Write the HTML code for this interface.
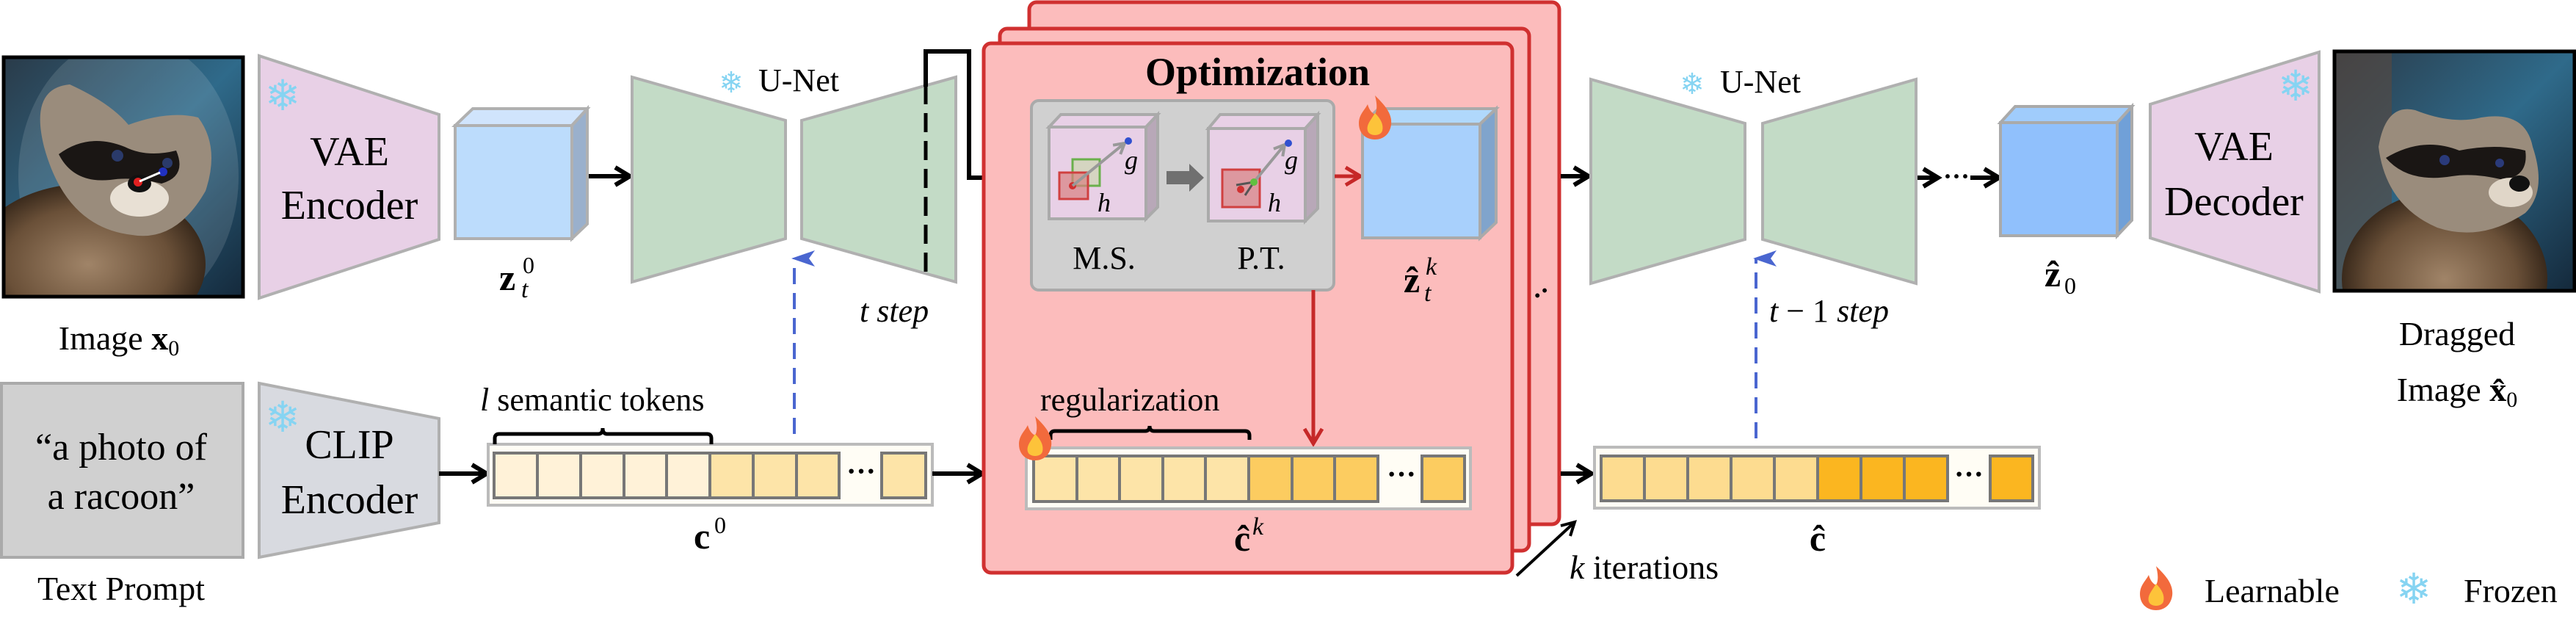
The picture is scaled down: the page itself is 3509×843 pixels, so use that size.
<!DOCTYPE html>
<html><head><meta charset="utf-8"><style>
html,body{margin:0;padding:0;background:#fff}
svg{display:block}
svg text{font-family:"Liberation Serif","DejaVu Serif","Times New Roman",serif;fill:#000}
</style></head><body>
<svg width="3509" height="843" viewBox="0 0 3509 843" xmlns="http://www.w3.org/2000/svg" font-family="Liberation Serif, DejaVu Serif, serif">
<defs>
<marker id="ab" markerUnits="userSpaceOnUse" markerWidth="30" markerHeight="30" refX="24" refY="15" orient="auto"><path d="M4,3 L24,15 L4,27" fill="none" stroke="#000" stroke-width="6"/></marker>
<marker id="ar" markerUnits="userSpaceOnUse" markerWidth="30" markerHeight="30" refX="24" refY="15" orient="auto"><path d="M4,3 L24,15 L4,27" fill="none" stroke="#c62828" stroke-width="5"/></marker>
<marker id="abl" markerUnits="userSpaceOnUse" markerWidth="30" markerHeight="34" refX="15" refY="4" orient="auto-start-reverse"><path d="M15,0 L26,32 L15,24 L4,32 Z" fill="#4a66d0"/></marker>
<marker id="ag" markerUnits="userSpaceOnUse" markerWidth="20" markerHeight="20" refX="16" refY="10" orient="auto"><path d="M2,2 L16,10 L2,18" fill="none" stroke="#999" stroke-width="4"/></marker>
<linearGradient id="bg1" x1="0" y1="0" x2="1" y2="1"><stop offset="0" stop-color="#2a3a48"/><stop offset="0.5" stop-color="#2f6a8a"/><stop offset="1" stop-color="#14283a"/></linearGradient>
<radialGradient id="fur" cx="0.5" cy="0.5" r="0.5"><stop offset="0" stop-color="#a08468"/><stop offset="0.7" stop-color="#6a5038"/><stop offset="1" stop-color="#3a2a1c"/></radialGradient>
<clipPath id="c1"><rect x="3" y="76" width="330" height="330"/></clipPath>
<clipPath id="c2"><rect x="3178" y="68" width="331" height="330"/></clipPath>
<g id="flame"><path d="M0,-30 C12,-18 24,-6 22,10 C20,24 10,30 0,30 C-12,30 -22,22 -22,8 C-22,-4 -14,-10 -10,-18 C-8,-10 -4,-6 0,-4 C4,-12 2,-22 0,-30 Z" fill="#f26a3c"/><path d="M0,-6 C8,2 12,10 10,18 C8,26 -8,26 -10,18 C-12,10 -6,4 0,-6 Z" fill="#fdc33a"/></g>
</defs>

<g clip-path="url(#c1)">
<rect x="3" y="76" width="330" height="330" fill="url(#bg1)"/>
<ellipse cx="175" cy="240" rx="150" ry="190" fill="#ffffff" opacity="0.12"/>
<ellipse cx="120" cy="360" rx="160" ry="110" fill="url(#fur)"/>
<path d="M60,200 Q40,120 95,115 Q150,140 175,170 Q230,150 270,160 Q300,200 280,260 Q240,330 180,320 Q90,310 60,200 Z" fill="#9a8c7c"/>
<path d="M80,210 Q120,180 170,200 Q200,215 240,205 Q255,240 220,250 Q180,240 150,245 Q100,250 80,210 Z" fill="#1a1614"/>
<circle cx="160" cy="212" r="8" fill="#2a3a6a"/><circle cx="228" cy="222" r="7" fill="#2a3a6a"/>
<ellipse cx="190" cy="270" rx="40" ry="25" fill="#e8e0d4"/>
<ellipse cx="190" cy="250" rx="16" ry="12" fill="#111"/>
<circle cx="188" cy="248" r="6" fill="#e02020"/><circle cx="222" cy="234" r="6" fill="#2030c0"/>
<line x1="190" y1="247" x2="218" y2="235" stroke="#fff" stroke-width="3"/>
</g>
<rect x="5" y="78" width="326" height="326" fill="none" stroke="#000" stroke-width="5"/>
<text x="162" y="476" font-size="46" text-anchor="middle">Image <tspan font-weight="bold">x</tspan><tspan font-size="30" dy="8">0</tspan></text>

<polygon points="353,76 598,156 598,326 353,406" fill="#e8d0e6" stroke="#b0b0b0" stroke-width="4"/>
<text x="385" y="150" font-size="58" text-anchor="middle" style="fill:#86d4f2">❄</text>
<text x="476" y="225" font-size="56" text-anchor="middle">VAE</text>
<text x="476" y="298" font-size="56" text-anchor="middle">Encoder</text>

<polygon points="620,171 644,148 800,148 779,171" fill="#d0e4fc" stroke="#b0b0b0" stroke-width="4"/>
<polygon points="779,171 800,148 800,305 779,325" fill="#9ab0cc" stroke="#b0b0b0" stroke-width="4"/>
<rect x="620" y="171" width="159" height="154" fill="#bcdcfc" stroke="#b0b0b0" stroke-width="4"/>
<text x="680" y="395" font-size="50" font-weight="bold">z</text>
<text x="712" y="372" font-size="32">0</text>
<text x="710" y="405" font-size="34" font-style="italic">t</text>
<line x1="802" y1="240" x2="858" y2="240" stroke="#000" stroke-width="6" marker-end="url(#ab)"/>

<polygon points="861,105 1070,164 1070,325 861,384" fill="#c3dbc6" stroke="#b0b0b0" stroke-width="4"/>
<polygon points="1092,164 1302,105 1302,384 1092,325" fill="#c3dbc6" stroke="#b0b0b0" stroke-width="4"/>
<text x="996" y="126" font-size="40" text-anchor="middle" style="fill:#86d4f2">❄</text>
<text x="1033" y="124" font-size="44">U-Net</text>
<line x1="1261" y1="116" x2="1261" y2="371" stroke="#000" stroke-width="5" stroke-dasharray="26,12"/>
<path d="M1261,118 V70 H1320 V242 H1400" fill="none" stroke="#000" stroke-width="6" marker-end="url(#ab)"/>
<text x="1171" y="438" font-size="44" font-style="italic">t step</text>
<line x1="1082" y1="591" x2="1082" y2="352" stroke="#4a66d0" stroke-width="4" stroke-dasharray="22,12" marker-end="url(#abl)"/>

<rect x="2" y="522" width="329" height="237" fill="#d0d0d0" stroke="#aaa" stroke-width="4"/>
<text x="165" y="626" font-size="52" text-anchor="middle">“a photo of</text>
<text x="165" y="693" font-size="52" text-anchor="middle">a racoon”</text>
<text x="165" y="817" font-size="46" text-anchor="middle">Text Prompt</text>

<polygon points="353,522 598,570 598,712 353,759" fill="#d8dae0" stroke="#b0b0b0" stroke-width="4"/>
<text x="385" y="588" font-size="58" text-anchor="middle" style="fill:#86d4f2">❄</text>
<text x="476" y="624" font-size="56" text-anchor="middle">CLIP</text>
<text x="476" y="699" font-size="56" text-anchor="middle">Encoder</text>
<line x1="598" y1="645" x2="663" y2="645" stroke="#000" stroke-width="6" marker-end="url(#ab)"/>

<rect x="665" y="605" width="605" height="83" fill="#fffdf5" stroke="#bbb" stroke-width="4"/>
<g stroke="#777" stroke-width="4">
<rect x="673" y="617" width="59" height="61" fill="#fff2d8"/><rect x="732" y="617" width="59" height="61" fill="#fff2d8"/><rect x="791" y="617" width="59" height="61" fill="#fff2d8"/><rect x="850" y="617" width="58" height="61" fill="#fff2d8"/><rect x="908" y="617" width="59" height="61" fill="#fff2d8"/>
<rect x="967" y="617" width="59" height="61" fill="#fde4a8"/><rect x="1026" y="617" width="59" height="61" fill="#fde4a8"/><rect x="1085" y="617" width="58" height="61" fill="#fde4a8"/>
<rect x="1201" y="617" width="60" height="61" fill="#fde4a8"/>
</g>
<text x="1173" y="655" font-size="40" font-weight="bold" text-anchor="middle">···</text>
<path d="M674,605 V597 Q674,591 680,591 H815 Q821,591 821,583 Q821,591 827,591 H963 Q969,591 969,597 V605" fill="none" stroke="#000" stroke-width="5"/>
<text x="654" y="559" font-size="44"><tspan font-style="italic">l</tspan> semantic tokens</text>
<text x="945" y="747" font-size="50" font-weight="bold">c</text>
<text x="973" y="726" font-size="32">0</text>
<line x1="1270" y1="645" x2="1338" y2="645" stroke="#000" stroke-width="6" marker-end="url(#ab)"/>

<rect x="1402" y="3" width="722" height="711" rx="10" fill="#fcbcbc" stroke="#d03030" stroke-width="5"/>
<rect x="1362" y="39" width="721" height="711" rx="10" fill="#fcbcbc" stroke="#d03030" stroke-width="5"/>
<rect x="1340" y="59" width="720" height="721" rx="10" fill="#fcbcbc" stroke="#d03030" stroke-width="5"/>
<text x="1713" y="116" font-size="54" font-weight="bold" text-anchor="middle">Optimization</text>
<rect x="1405" y="137" width="412" height="258" rx="10" fill="#d0d0d0" stroke="#aaa" stroke-width="4"/>
<polygon points="1429,173 1445,156 1577,156 1561,173" fill="#e8d0e6" stroke="#aaa" stroke-width="4"/>
<polygon points="1561,173 1577,156 1577,282 1561,298" fill="#b8a8b8" stroke="#aaa" stroke-width="4"/>
<rect x="1429" y="173" width="132" height="125" fill="#e8d0e6" stroke="#aaa" stroke-width="4"/>
<rect x="1461" y="217" width="37" height="36" fill="#c8d8a8" fill-opacity="0.6" stroke="#6ab04c" stroke-width="3"/>
<rect x="1443" y="235" width="39" height="36" fill="#d88080" fill-opacity="0.7" stroke="#d04040" stroke-width="3"/>
<circle cx="1461" cy="253" r="5" fill="#d03030"/>
<line x1="1461" y1="253" x2="1532" y2="195" stroke="#999" stroke-width="4" marker-end="url(#ag)"/>
<circle cx="1537" cy="192" r="5" fill="#3050d0"/>
<text x="1532" y="230" font-size="36" font-style="italic">g</text>
<text x="1495" y="288" font-size="36" font-style="italic">h</text>
<polygon points="1589,233 1620,233 1620,223 1640,242 1620,261 1620,251 1589,251" fill="#707070"/>
<polygon points="1646,175 1662,156 1795,156 1778,175" fill="#e8d0e6" stroke="#aaa" stroke-width="4"/>
<polygon points="1778,175 1795,156 1795,284 1778,301" fill="#b8a8b8" stroke="#aaa" stroke-width="4"/>
<rect x="1646" y="175" width="132" height="126" fill="#e8d0e6" stroke="#aaa" stroke-width="4"/>
<rect x="1665" y="231" width="51" height="51" fill="#d88080" fill-opacity="0.7" stroke="#d04040" stroke-width="3"/>
<circle cx="1690" cy="258" r="5" fill="#d03030"/>
<line x1="1708" y1="248" x2="1750" y2="197" stroke="#999" stroke-width="4" marker-end="url(#ag)"/>
<path d="M1708,248 L1684,252 M1708,248 L1696,266" stroke="#555" stroke-width="3"/>
<circle cx="1708" cy="248" r="5" fill="#60c040"/>
<circle cx="1755" cy="195" r="5" fill="#3050d0"/>
<text x="1750" y="230" font-size="36" font-style="italic">g</text>
<text x="1727" y="288" font-size="36" font-style="italic">h</text>
<text x="1504" y="366" font-size="44" text-anchor="middle">M.S.</text>
<text x="1718" y="366" font-size="44" text-anchor="middle">P.T.</text>
<line x1="1818" y1="240" x2="1853" y2="240" stroke="#c62828" stroke-width="5" marker-end="url(#ar)"/>
<polygon points="1856,169 1878,148 2038,148 2016,169" fill="#b0d8fc" stroke="#aaa" stroke-width="4"/>
<polygon points="2016,169 2038,148 2038,303 2016,324" fill="#80a4cc" stroke="#aaa" stroke-width="4"/>
<rect x="1856" y="169" width="160" height="155" fill="#a8d0fc" stroke="#aaa" stroke-width="4"/>
<use href="#flame" x="1873" y="160"/>
<text x="1912" y="398" font-size="50" font-weight="bold">ẑ</text>
<text x="1942" y="374" font-size="34" font-style="italic">k</text>
<text x="1940" y="410" font-size="34" font-style="italic">t</text>
<line x1="1789" y1="395" x2="1789" y2="604" stroke="#c62828" stroke-width="5" marker-end="url(#ar)"/>
<text x="2102" y="410" font-size="36" font-weight="bold" text-anchor="middle" transform="rotate(-35 2102 403)">··</text>
<rect x="1398" y="610" width="605" height="83" fill="#fffdf5" stroke="#bbb" stroke-width="4"/>
<g stroke="#777" stroke-width="4">
<rect x="1408" y="621" width="59" height="62" fill="#fde4a8"/><rect x="1467" y="621" width="58" height="62" fill="#fde4a8"/><rect x="1525" y="621" width="59" height="62" fill="#fde4a8"/><rect x="1584" y="621" width="58" height="62" fill="#fde4a8"/><rect x="1642" y="621" width="59" height="62" fill="#fde4a8"/>
<rect x="1701" y="621" width="59" height="62" fill="#fccc60"/><rect x="1760" y="621" width="58" height="62" fill="#fccc60"/><rect x="1818" y="621" width="59" height="62" fill="#fccc60"/>
<rect x="1937" y="621" width="58" height="62" fill="#fccc60"/>
</g>
<text x="1909" y="659" font-size="40" font-weight="bold" text-anchor="middle">···</text>
<path d="M1431,599 V593 Q1431,587 1437,587 H1560 Q1566,587 1566,580 Q1566,587 1572,587 H1696 Q1702,587 1702,593 V599" fill="none" stroke="#000" stroke-width="5"/>
<text x="1417" y="559" font-size="44">regularization</text>
<use href="#flame" x="1410" y="597"/>
<text x="1681" y="750" font-size="50" font-weight="bold">ĉ</text>
<text x="1706" y="728" font-size="34" font-style="italic">k</text>
<line x1="2126" y1="240" x2="2164" y2="240" stroke="#000" stroke-width="6" marker-end="url(#ab)"/>
<line x1="2126" y1="645" x2="2168" y2="645" stroke="#000" stroke-width="6" marker-end="url(#ab)"/>
<line x1="2066" y1="784" x2="2144" y2="712" stroke="#000" stroke-width="4"/>
<path d="M2126,716 L2145,711 L2139,730" fill="none" stroke="#000" stroke-width="4"/>
<text x="2138" y="788" font-size="46"><tspan font-style="italic">k</tspan> iterations</text>

<polygon points="2167,108 2377,168 2377,326 2167,386" fill="#c3dbc6" stroke="#b0b0b0" stroke-width="4"/>
<polygon points="2401,168 2610,108 2610,386 2401,326" fill="#c3dbc6" stroke="#b0b0b0" stroke-width="4"/>
<text x="2305" y="128" font-size="40" text-anchor="middle" style="fill:#86d4f2">❄</text>
<text x="2343" y="126" font-size="44">U-Net</text>
<line x1="2392" y1="597" x2="2392" y2="352" stroke="#4a66d0" stroke-width="4" stroke-dasharray="22,12" marker-end="url(#abl)"/>
<text x="2410" y="438" font-size="44"><tspan font-style="italic">t</tspan> − 1 <tspan font-style="italic">step</tspan></text>
<line x1="2612" y1="242" x2="2640" y2="242" stroke="#000" stroke-width="6" marker-end="url(#ab)"/>
<text x="2665" y="252" font-size="36" font-weight="bold" text-anchor="middle">···</text>
<line x1="2684" y1="242" x2="2723" y2="242" stroke="#000" stroke-width="6" marker-end="url(#ab)"/>
<polygon points="2725,167 2745,145 2904,145 2884,167" fill="#a0ccfc" stroke="#aaa" stroke-width="4"/>
<polygon points="2884,167 2904,145 2904,300 2884,321" fill="#70a0d8" stroke="#aaa" stroke-width="4"/>
<rect x="2725" y="167" width="159" height="154" fill="#90c0fc" stroke="#aaa" stroke-width="4"/>
<text x="2785" y="390" font-size="50" font-weight="bold">ẑ</text>
<text x="2812" y="400" font-size="32">0</text>
<polygon points="2929,142 3159,71 3159,397 2929,324" fill="#e8d0e6" stroke="#b0b0b0" stroke-width="4"/>
<text x="3127" y="137" font-size="58" text-anchor="middle" style="fill:#86d4f2">❄</text>
<text x="3043" y="218" font-size="56" text-anchor="middle">VAE</text>
<text x="3043" y="293" font-size="56" text-anchor="middle">Decoder</text>
<g clip-path="url(#c2)">
<rect x="3178" y="68" width="331" height="330" fill="url(#bg1)"/>
<rect x="3178" y="68" width="80" height="330" fill="#5a4a40" opacity="0.6"/>
<ellipse cx="3330" cy="380" rx="140" ry="120" fill="url(#fur)"/>
<path d="M3240,200 Q3250,140 3290,150 Q3340,170 3380,160 Q3440,150 3450,200 Q3470,260 3440,290 Q3380,330 3320,310 Q3250,280 3240,200 Z" fill="#9a8c7c"/>
<path d="M3250,215 Q3300,185 3350,205 Q3400,195 3440,205 Q3445,240 3410,245 Q3370,235 3340,240 Q3280,250 3250,215 Z" fill="#1a1614"/>
<circle cx="3330" cy="218" r="7" fill="#2a3a7a"/><circle cx="3405" cy="222" r="6" fill="#2a3a7a"/>
<ellipse cx="3420" cy="262" rx="30" ry="20" fill="#e0d6c8"/>
<ellipse cx="3432" cy="250" rx="14" ry="11" fill="#111"/>
</g>
<rect x="3180" y="70" width="327" height="326" fill="none" stroke="#000" stroke-width="5"/>
<text x="3347" y="470" font-size="46" text-anchor="middle">Dragged</text>
<text x="3347" y="546" font-size="46" text-anchor="middle">Image <tspan font-weight="bold">x̂</tspan><tspan font-size="30" dy="8">0</tspan></text>
<rect x="2172" y="609" width="606" height="83" fill="#fffdf5" stroke="#bbb" stroke-width="4"/>
<g stroke="#777" stroke-width="4">
<rect x="2181" y="621" width="59" height="61" fill="#fddc90"/><rect x="2240" y="621" width="59" height="61" fill="#fddc90"/><rect x="2299" y="621" width="59" height="61" fill="#fddc90"/><rect x="2358" y="621" width="59" height="61" fill="#fddc90"/><rect x="2417" y="621" width="59" height="61" fill="#fddc90"/>
<rect x="2476" y="621" width="59" height="61" fill="#fbb620"/><rect x="2535" y="621" width="59" height="61" fill="#fbb620"/><rect x="2594" y="621" width="59" height="61" fill="#fbb620"/>
<rect x="2711" y="621" width="58" height="61" fill="#fbb620"/>
</g>
<text x="2682" y="659" font-size="40" font-weight="bold" text-anchor="middle">···</text>
<text x="2476" y="750" font-size="50" font-weight="bold" text-anchor="middle">ĉ</text>
<use href="#flame" x="2937" y="801"/>
<text x="3003" y="820" font-size="46">Learnable</text>
<text x="3288" y="822" font-size="58" text-anchor="middle" style="fill:#86d4f2">❄</text>
<text x="3356" y="820" font-size="46">Frozen</text>
</svg>
</body></html>
